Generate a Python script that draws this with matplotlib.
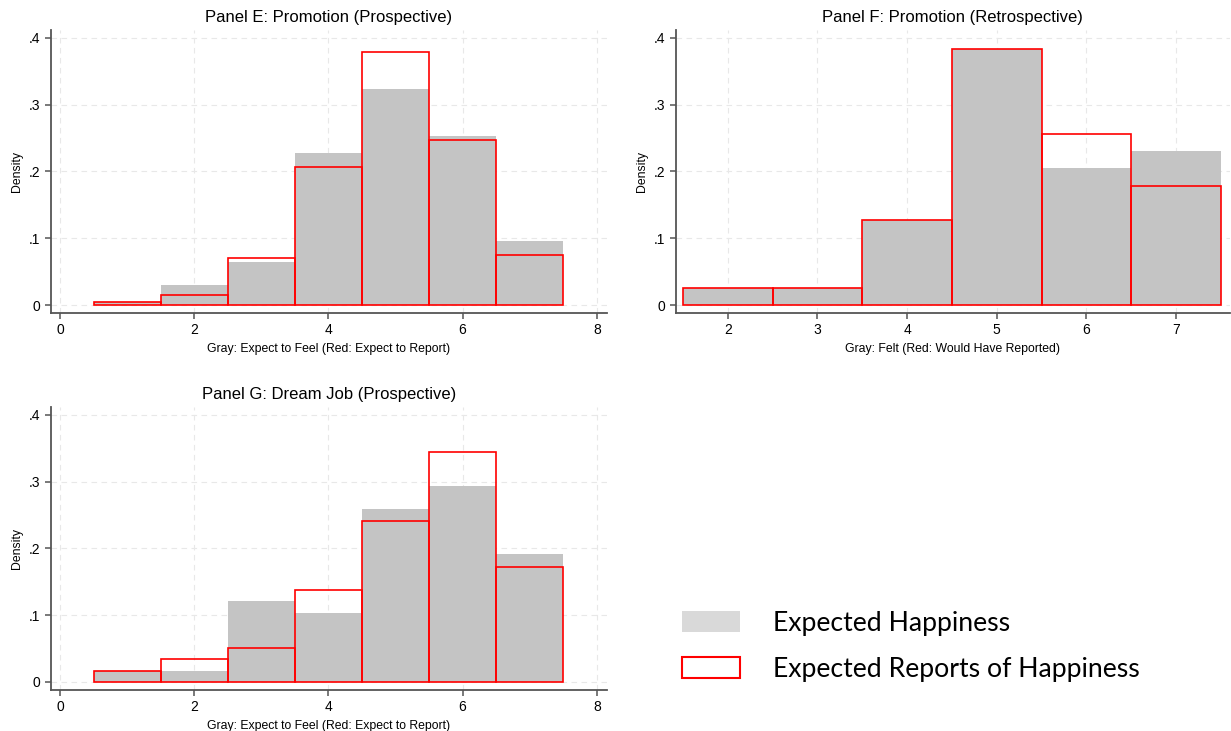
import matplotlib.pyplot as plt
import numpy as np
from matplotlib.patches import Patch

# response categories (bin centres) and densities
cats_e = [1, 2, 3, 4, 5, 6, 7]
feel_e = [0.005, 0.030, 0.065, 0.227, 0.324, 0.253, 0.096]
report_e = [0.0045, 0.0145, 0.070, 0.206, 0.379, 0.247, 0.075]

cats_f = [2, 3, 4, 5, 6, 7]
feel_f = [0.025, 0.025, 0.128, 0.384, 0.205, 0.231]
report_f = [0.025, 0.025, 0.128, 0.384, 0.256, 0.179]

cats_g = [1, 2, 3, 4, 5, 6, 7]
feel_g = [0.017, 0.017, 0.121, 0.104, 0.259, 0.294, 0.191]
report_g = [0.017, 0.034, 0.051, 0.138, 0.241, 0.344, 0.172]

yticks = [0, 0.1, 0.2, 0.3, 0.4]
ytick_labels = ["0", ".1", ".2", ".3", ".4"]

GRAY = "#c4c4c4"
RED = "#ff0000"
AXC = "#555555"

plt.rcParams["font.family"] = ["Liberation Sans", "DejaVu Sans"]

fig = plt.figure(figsize=(12.31, 7.31), dpi=100)


def panel(rect, cats, feel, report, title, xlabel, xticks, xlim):
    ax = fig.add_axes(rect)
    ax.bar(cats, feel, width=1.0, color=GRAY, edgecolor="none", zorder=2)
    ax.bar(cats, report, width=1.0, facecolor="none", edgecolor=RED,
           linewidth=1.2, zorder=3)
    ax.set_xlim(*xlim)
    ax.set_ylim(-0.012, 0.412)
    ax.set_xticks(xticks)
    ax.set_yticks(yticks)
    ax.set_yticklabels(ytick_labels)
    ax.grid(True, color="#e8e8e8", linestyle=(0, (5, 4)), linewidth=0.8, zorder=0)
    for s in ["top", "right"]:
        ax.spines[s].set_visible(False)
    for s in ["left", "bottom"]:
        ax.spines[s].set_color(AXC)
        ax.spines[s].set_linewidth(1.3)
    ax.tick_params(colors=AXC, labelcolor="black", labelsize=10, length=4, width=1.1)
    ax.set_title(title, fontsize=12, pad=6)
    ax.set_xlabel(xlabel, fontsize=8.8, labelpad=4)
    ax.set_ylabel("Density", fontsize=8.8, labelpad=4)
    return ax


panel([0.0414, 0.5718, 0.4516, 0.3872], cats_e, feel_e, report_e,
      "Panel E: Promotion (Prospective)",
      "Gray: Expect to Feel (Red: Expect to Report)",
      [0, 2, 4, 6, 8], (-0.134, 8.15))

panel([0.549, 0.5718, 0.450, 0.3872], cats_f, feel_f, report_f,
      "Panel F: Promotion (Retrospective)",
      "Gray: Felt (Red: Would Have Reported)",
      [2, 3, 4, 5, 6, 7], (1.42, 7.6))

panel([0.0414, 0.0561, 0.4516, 0.3872], cats_g, feel_g, report_g,
      "Panel G: Dream Job (Prospective)",
      "Gray: Expect to Feel (Red: Expect to Report)",
      [0, 2, 4, 6, 8], (-0.134, 8.15))

handles = [Patch(facecolor="#d9d9d9", edgecolor="none"),
           Patch(facecolor="white", edgecolor=RED, linewidth=1.5)]
fig.legend(handles, ["Expected Happiness", "Expected Reports of Happiness"],
           loc="upper left", bbox_to_anchor=(0.554, 0.164),
           frameon=False, prop={"family": "Lato", "size": 19.2},
           handlelength=2.17, handleheight=0.82, handletextpad=1.24,
           labelspacing=0.78, borderpad=0, borderaxespad=0)

fig.savefig("out.png", dpi=100)
